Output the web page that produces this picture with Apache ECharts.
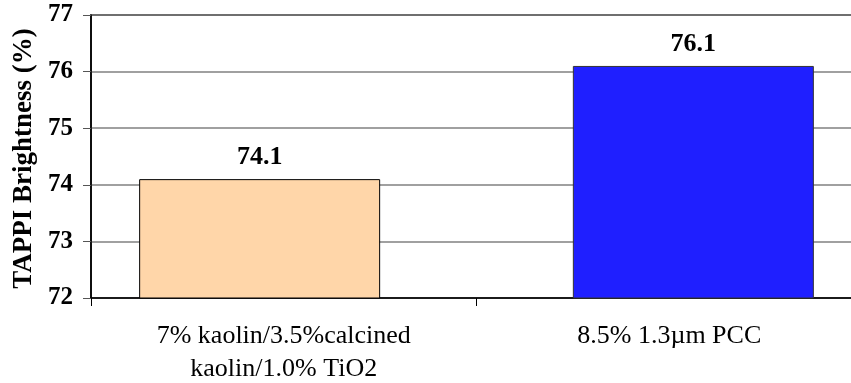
<!DOCTYPE html>
<html>
<head>
<meta charset="utf-8">
<script src="https://cdn.jsdelivr.net/npm/echarts@6/dist/echarts.min.js"></script>
<style>
  html, body { margin: 0; padding: 0; background: #fff; }
  #chart { width: 851px; height: 383px; }
</style>
</head>
<body>
<div id="chart"></div>
<script>
// Filler formulations and measured brightness
const categories = ['7% kaolin/3.5%calcined\nkaolin/1.0% TiO2', '8.5% 1.3\u00b5m PCC'];
const kaolinBlend = [74.1, '-'];
const pccOnly = ['-', 76.1];
const yTicks = { min: 72, max: 77, step: 1 };
const yTitle = 'TAPPI Brightness (%)';

const serif = "'Liberation Serif', 'Times New Roman', serif";

const chart = echarts.init(document.getElementById('chart'), null, { renderer: 'canvas' });

const labelStyle = {
  show: true,
  position: 'top',
  distance: 9,
  fontFamily: serif,
  fontWeight: 'bold',
  fontSize: 26,
  color: '#000',
  formatter: p => p.value.toFixed(1)
};

chart.setOption({
  animation: false,
  backgroundColor: '#fff',
  grid: {
    left: 91, top: 15, right: -11, bottom: 85,
    containLabel: false,
    outerBoundsMode: 'none',
    show: true, borderColor: '#000', borderWidth: 1.5,
    backgroundColor: 'transparent'
  },
  xAxis: {
    type: 'category',
    data: categories,
    axisLine: { lineStyle: { color: '#000', width: 1.5 } },
    axisTick: { show: true, length: 8, interval: 0, lineStyle: { color: '#000' } },
    axisLabel: {
      interval: 0,
      margin: 22,
      fontFamily: serif,
      fontSize: 26,
      lineHeight: 33,
      color: '#000',
      verticalAlign: 'top'
    },
    splitLine: { show: false }
  },
  yAxis: {
    type: 'value',
    min: yTicks.min,
    max: yTicks.max,
    interval: yTicks.step,
    name: yTitle,
    nameLocation: 'middle',
    nameGap: 67,
    nameRotate: 90,
    nameMoveOverlap: false,
    nameTextStyle: {
      fontFamily: serif,
      fontWeight: 'bold',
      fontSize: 27,
      color: '#000',
      verticalAlign: 'middle',
      padding: [0, 4, 0, 0]
    },
    axisLine: { show: true, lineStyle: { color: '#000', width: 1.5 } },
    axisTick: { show: true, length: 8, lineStyle: { color: '#555' } },
    axisLabel: {
      margin: 18,
      fontFamily: serif,
      fontWeight: 'bold',
      fontSize: 25,
      color: '#000'
    },
    splitLine: { show: true, lineStyle: { color: '#808080', width: 1.5 } }
  },
  series: [
    {
      type: 'bar',
      data: kaolinBlend,
      barWidth: 241,
      barGap: '-80%',
      itemStyle: { color: '#FFD6A9', borderColor: '#000', borderWidth: 1 },
      label: labelStyle
    },
    {
      type: 'bar',
      data: pccOnly,
      barWidth: 241,
      itemStyle: { color: '#1F1FFF', borderColor: '#333', borderWidth: 1 },
      label: labelStyle
    }
  ]
});
</script>
</body>
</html>
